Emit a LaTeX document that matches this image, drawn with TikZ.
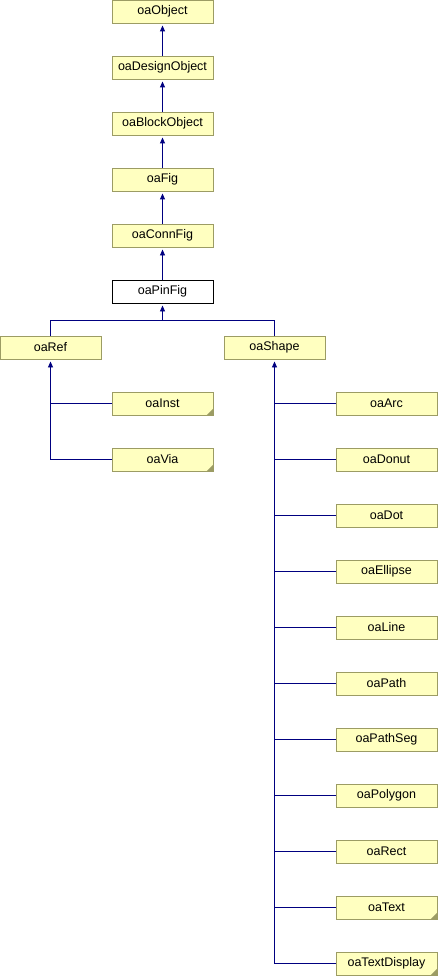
\documentclass[tikz,border=0pt]{standalone}
\usepackage{fontspec}
\setmainfont{Liberation Sans}
\usetikzlibrary{arrows.meta}
\definecolor{boxfill}{HTML}{FFFFC0}
\definecolor{boxline}{HTML}{9C9C64}
\definecolor{edgeblue}{HTML}{000080}
\newcommand\notemark[1]{\fill[boxline] ([xshift=-6.5pt,yshift=0.5pt]#1.south east) -- ([xshift=-0.5pt,yshift=0.5pt]#1.south east) -- ([xshift=-0.5pt,yshift=6.5pt]#1.south east) -- cycle;}
\begin{document}
\begin{tikzpicture}[x=1pt,y=-1pt,
    cls/.style={draw=boxline,fill=boxfill,line width=0.9pt,minimum width=101pt,minimum height=23pt,inner sep=0pt,font=\fontsize{12.5}{15}\selectfont},
    cur/.style={cls,draw=black,fill=white},
    conn/.style={draw=edgeblue,line width=0.9pt},
    inh/.style={conn,-{Triangle[length=6pt,width=5pt]},shorten >=2pt}]
    \useasboundingbox (0,0) rectangle (438,976);
    % base chain
    \node[cls] (obj) at (162.5,11.5) {oaObject};
    \node[cls] (dobj) at (162.5,67.5) {oaDesignObject};
    \node[cls] (bobj) at (162.5,123.5) {oaBlockObject};
    \node[cls] (fig) at (162.5,179.5) {oaFig};
    \node[cls] (cfig) at (162.5,235.5) {oaConnFig};
    \node[cur] (pfig) at (162.5,291.5) {oaPinFig};
    % derived
    \node[cls] (ref) at (50.5,347.5) {oaRef};
    \node[cls] (shape) at (274.5,347.5) {oaShape};
    \node[cls] (inst) at (162.5,403.5) {oaInst};
    \node[cls] (via) at (162.5,459.5) {oaVia};
    \node[cls] (arc) at (386.5,403.5) {oaArc};
    \node[cls] (donut) at (386.5,459.5) {oaDonut};
    \node[cls] (dot) at (386.5,515.5) {oaDot};
    \node[cls] (ellipse) at (386.5,571.5) {oaEllipse};
    \node[cls] (line) at (386.5,627.5) {oaLine};
    \node[cls] (path) at (386.5,683.5) {oaPath};
    \node[cls] (pseg) at (386.5,739.5) {oaPathSeg};
    \node[cls] (poly) at (386.5,795.5) {oaPolygon};
    \node[cls] (rect) at (386.5,851.5) {oaRect};
    \node[cls] (text) at (386.5,907.5) {oaText};
    \node[cls] (tdisp) at (386.5,963.5) {oaTextDisplay};
    \notemark{inst}
    \notemark{via}
    \notemark{text}
    \notemark{tdisp}
    % links
    \draw[inh] (dobj) -- (obj);
    \draw[inh] (bobj) -- (dobj);
    \draw[inh] (fig) -- (bobj);
    \draw[inh] (cfig) -- (fig);
    \draw[inh] (pfig) -- (cfig);
    \coordinate (split) at (162.5,320);
    \draw[conn] (ref.north) |- (split);
    \draw[conn] (shape.north) |- (split);
    \draw[inh] (split) -- (pfig);
    \draw[inh] (via.west) -| (ref);
    \draw[conn] (inst.west) -- (inst.west -| ref.south);
    \draw[inh] (tdisp.west) -| (shape);
    \draw[conn] (arc.west) -- (arc.west -| shape.south);
    \draw[conn] (donut.west) -- (donut.west -| shape.south);
    \draw[conn] (dot.west) -- (dot.west -| shape.south);
    \draw[conn] (ellipse.west) -- (ellipse.west -| shape.south);
    \draw[conn] (line.west) -- (line.west -| shape.south);
    \draw[conn] (path.west) -- (path.west -| shape.south);
    \draw[conn] (pseg.west) -- (pseg.west -| shape.south);
    \draw[conn] (poly.west) -- (poly.west -| shape.south);
    \draw[conn] (rect.west) -- (rect.west -| shape.south);
    \draw[conn] (text.west) -- (text.west -| shape.south);
\end{tikzpicture}
\end{document}
